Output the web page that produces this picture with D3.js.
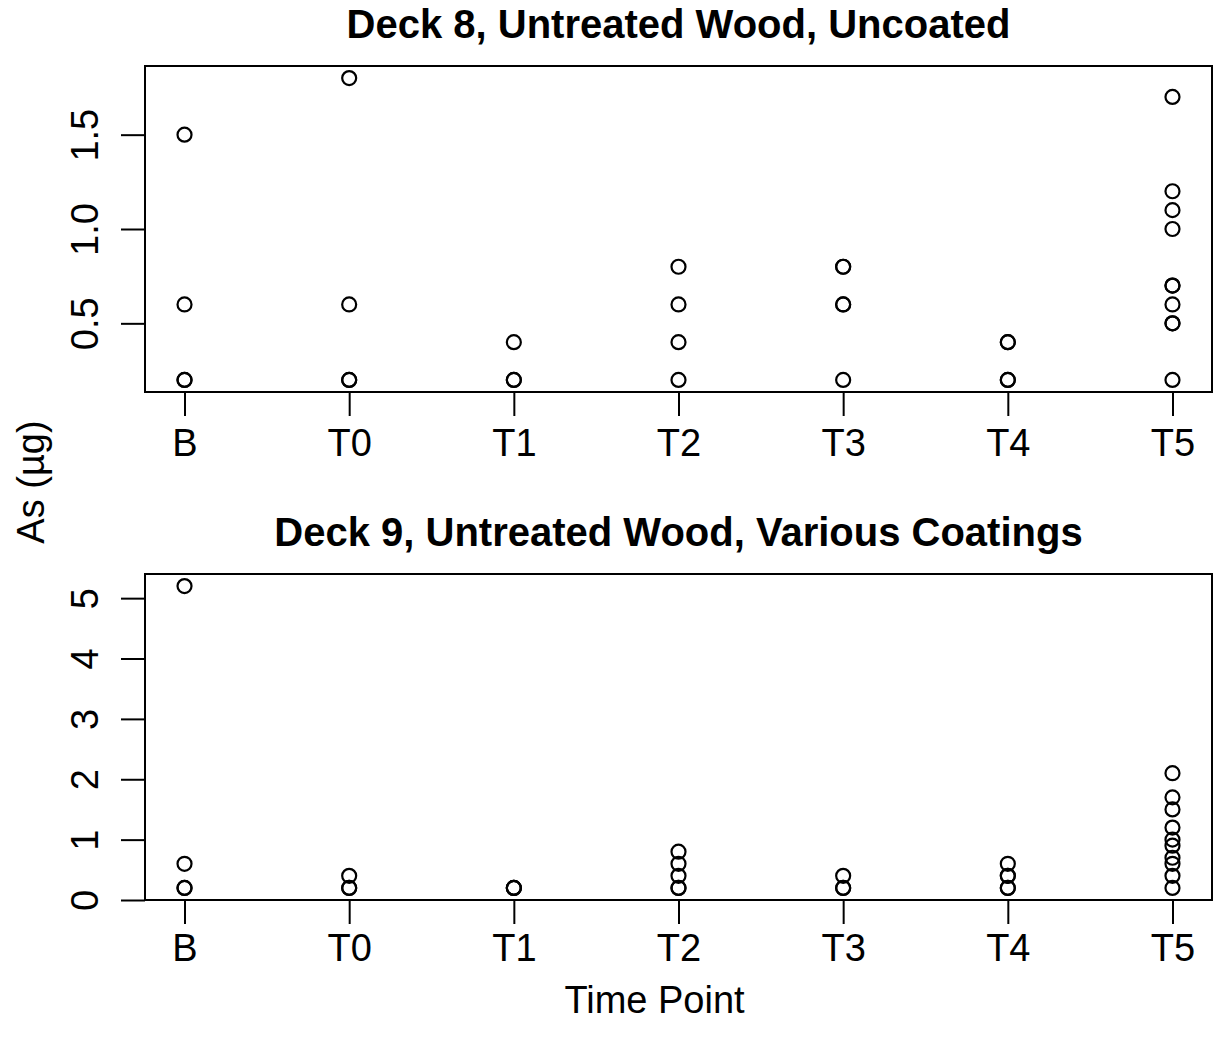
<!DOCTYPE html>
<html>
<head>
<meta charset="utf-8">
<script src="https://cdn.jsdelivr.net/npm/d3@7"></script>
<style>
html,body{margin:0;padding:0;background:#fff;}
svg{display:block;font-family:"Liberation Sans",Arial,Helvetica,sans-serif;}
</style>
</head>
<body>
<svg id="chart" width="1218" height="1049"></svg>
<script>
// ---- data ----
const categories = ["B","T0","T1","T2","T3","T4","T5"];
const deck8Title = "Deck 8, Untreated Wood, Uncoated";
const deck9Title = "Deck 9, Untreated Wood, Various Coatings";
const deck8B  = [1.5, 0.6, 0.2, 0.2];
const deck8T0 = [1.8, 0.6, 0.2, 0.2];
const deck8T1 = [0.4, 0.2, 0.2];
const deck8T2 = [0.8, 0.6, 0.4, 0.2];
const deck8T3 = [0.8, 0.8, 0.6, 0.6, 0.2];
const deck8T4 = [0.4, 0.4, 0.2, 0.2];
const deck8T5 = [1.7, 1.2, 1.1, 1.0, 0.7, 0.7, 0.6, 0.5, 0.5, 0.2];
const deck9B  = [5.2, 0.6, 0.2, 0.2];
const deck9T0 = [0.4, 0.2, 0.2];
const deck9T1 = [0.2, 0.2, 0.2];
const deck9T2 = [0.8, 0.6, 0.4, 0.2, 0.2];
const deck9T3 = [0.4, 0.2, 0.2];
const deck9T4 = [0.6, 0.4, 0.4, 0.2, 0.2];
const deck9T5 = [2.1, 1.7, 1.5, 1.2, 1.0, 0.9, 0.7, 0.6, 0.4, 0.2];
const deck8Ticks = [0.5, 1.0, 1.5];
const deck9Ticks = [0, 1, 2, 3, 4, 5];
const xLabel = "Time Point";
const yLabel = "As (\u00b5g)";

const deck8 = [deck8B, deck8T0, deck8T1, deck8T2, deck8T3, deck8T4, deck8T5];
const deck9 = [deck9B, deck9T0, deck9T1, deck9T2, deck9T3, deck9T4, deck9T5];

// ---- drawing ----
const svg = d3.select("#chart");
const W = 1218, H = 1049;
svg.append("rect").attr("width", W).attr("height", H).attr("fill", "#fff");

const left = 145, right = 1212;
const x = d3.scaleLinear().domain([0.76, 7.24]).range([left, right]);
const fontSize = 38;

function rExtent(vals) {
  const mn = d3.min(vals), mx = d3.max(vals);
  const pad = (mx - mn) * 0.04;
  return [mn - pad, mx + pad];
}

function panel(data, ticks, title, top, bottom, titleY, tickLabelY, tickFmt) {
  const all = data.flat();
  const y = d3.scaleLinear().domain(rExtent(all)).range([bottom, top]);
  const g = svg.append("g");

  // x axis
  const xAxis = d3.axisBottom(x)
    .tickValues(d3.range(1, categories.length + 1))
    .tickFormat(d => categories[d - 1])
    .tickSize(24).tickPadding(0);
  const gx = g.append("g").attr("transform", `translate(0,${bottom})`).call(xAxis);
  gx.select(".domain").remove();
  gx.selectAll(".tick line").attr("stroke", "#000").attr("stroke-width", 2);
  gx.selectAll(".tick text")
    .attr("y", tickLabelY - bottom).attr("dy", null)
    .attr("font-size", fontSize).attr("fill", "#000")
    .attr("font-family", '"Liberation Sans",Arial,sans-serif');

  // y axis
  const yAxis = d3.axisLeft(y).tickValues(ticks).tickFormat(tickFmt).tickSize(24).tickPadding(0);
  const gy = g.append("g").attr("transform", `translate(${left},0)`).call(yAxis);
  gy.select(".domain").remove();
  gy.selectAll(".tick line").attr("stroke", "#000").attr("stroke-width", 2);
  gy.selectAll(".tick text")
    .attr("x", null).attr("dy", null)
    .attr("transform", `translate(${98 - left},0) rotate(-90)`)
    .attr("text-anchor", "middle")
    .attr("font-size", fontSize).attr("fill", "#000")
    .attr("font-family", '"Liberation Sans",Arial,sans-serif');

  // box
  g.append("rect").attr("x", left).attr("y", top)
    .attr("width", right - left).attr("height", bottom - top)
    .attr("fill", "none").attr("stroke", "#000").attr("stroke-width", 2);

  // points
  const pts = [];
  data.forEach((vals, i) => vals.forEach(v => pts.push({c: i + 1, v})));
  g.selectAll("circle.pt").data(pts).enter().append("circle")
    .attr("class", "pt")
    .attr("cx", d => x(d.c)).attr("cy", d => y(d.v)).attr("r", 7)
    .attr("fill", "none").attr("stroke", "#000").attr("stroke-width", 2.2);

  // title
  g.append("text").attr("x", (left + right) / 2).attr("y", titleY)
    .attr("text-anchor", "middle").attr("font-weight", "bold")
    .attr("font-size", 40).attr("fill", "#000").text(title);
}

panel(deck8, deck8Ticks, deck8Title, 66, 392, 38, 456, d3.format(".1f"));
panel(deck9, deck9Ticks, deck9Title, 574, 900, 546, 961, d3.format("d"));

svg.append("text").attr("x", (left + right) / 2 - 24).attr("y", 1013)
  .attr("text-anchor", "middle").attr("font-size", fontSize).attr("fill", "#000").text(xLabel);
svg.append("text").attr("transform", "translate(44,482) rotate(-90)")
  .attr("text-anchor", "middle").attr("font-size", fontSize).attr("fill", "#000").text(yLabel);
</script>
</body>
</html>
